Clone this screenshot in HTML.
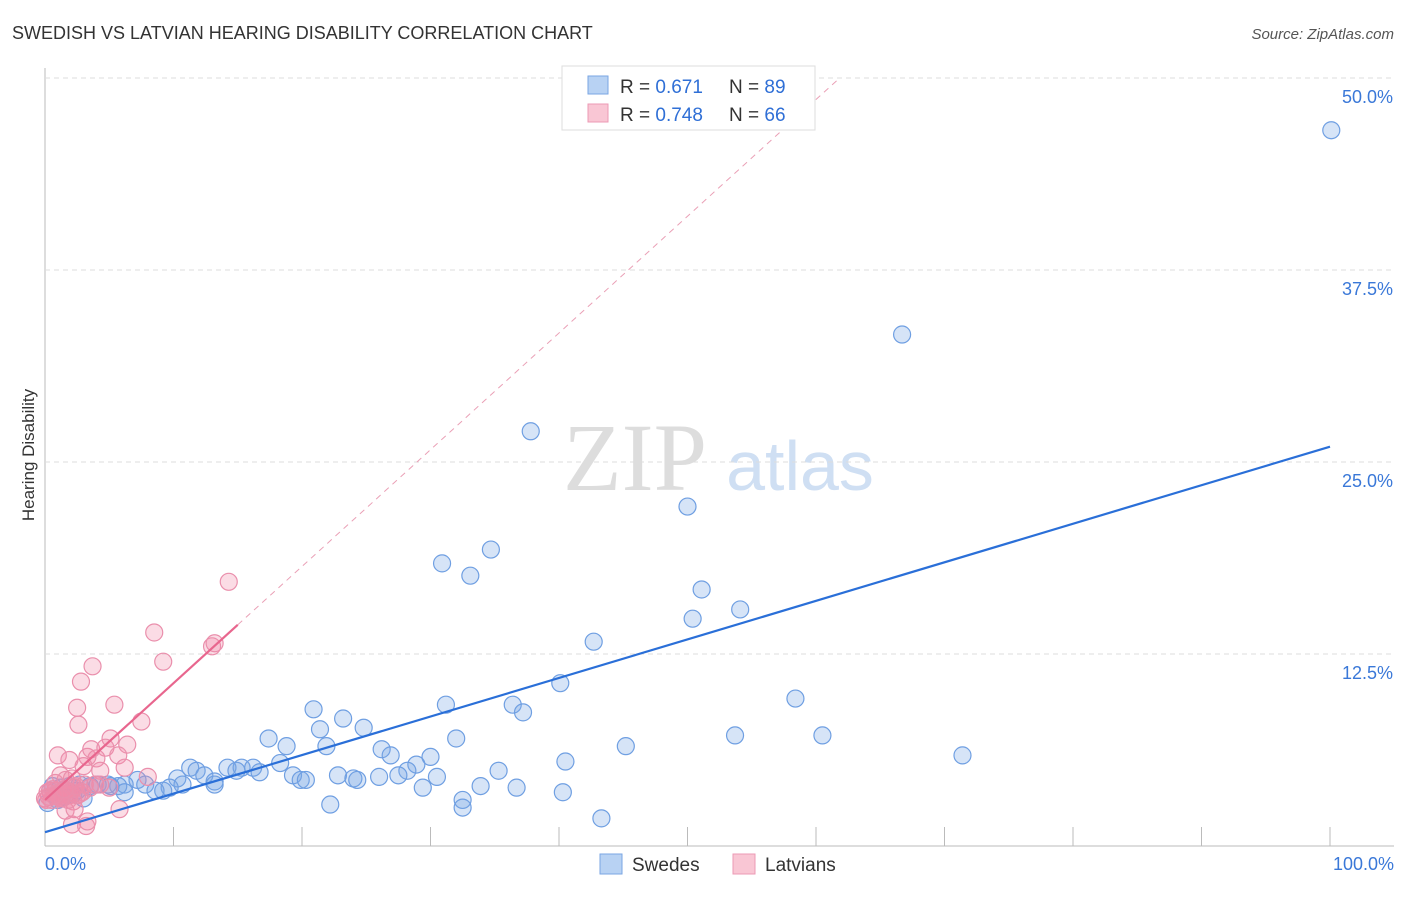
<!DOCTYPE html>
<html><head><meta charset="utf-8"><style>
body{margin:0;background:#fff;font-family:"Liberation Sans",sans-serif}
</style></head><body>
<svg id="chart" width="1406" height="892" xmlns="http://www.w3.org/2000/svg" style="font-family:'Liberation Sans',sans-serif">
<text x="12" y="39" font-size="18" fill="#333">SWEDISH VS LATVIAN HEARING DISABILITY CORRELATION CHART</text>
<text x="1394" y="39" font-size="15" fill="#555" font-style="italic" text-anchor="end">Source: ZipAtlas.com</text>
<text transform="translate(34,455) rotate(-90)" font-size="17" fill="#333" text-anchor="middle">Hearing Disability</text>
<g>
<text x="635" y="490" font-size="96" fill="#ddd" text-anchor="middle" font-family="Liberation Serif,serif">ZIP</text>
<text x="800" y="490" font-size="70" fill="#cfdff3" text-anchor="middle">atlas</text>
</g>
<g id="grid"></g><g id="marks"></g><g id="lines"></g>
<g>
<rect x="562" y="66" width="253" height="64" fill="#fff" stroke="#ddd"/>
<rect x="588" y="76" width="20" height="18" fill="#b8d2f3" stroke="#7aa6e3"/>
<rect x="588" y="104" width="20" height="18" fill="#f9c6d4" stroke="#ec9ab4"/>
<text x="620" y="93" font-size="19" fill="#333">R = <tspan fill="#2f6fd6">0.671</tspan></text>
<text x="729" y="93" font-size="19" fill="#333">N = <tspan fill="#2f6fd6">89</tspan></text>
<text x="620" y="121" font-size="19" fill="#333">R = <tspan fill="#2f6fd6">0.748</tspan></text>
<text x="729" y="121" font-size="19" fill="#333">N = <tspan fill="#2f6fd6">66</tspan></text>
</g>
<g>
<rect x="600" y="854" width="22" height="20" fill="#b8d2f3" stroke="#7aa6e3"/>
<text x="632" y="871" font-size="19" fill="#333">Swedes</text>
<rect x="733" y="854" width="22" height="20" fill="#f9c6d4" stroke="#ec9ab4"/>
<text x="765" y="871" font-size="19" fill="#333">Latvians</text>
</g>
</svg>
<script>
const yTicks=[12.5,25,37.5,50];
const yTickLabels=["12.5%","25.0%","37.5%","50.0%"];
const xTicks=[0,10,20,30,40,50,60,70,80,90,100];
const swedesX=[100.1,66.7,37.8,50.0,30.9,34.7,33.1,51.1,54.1,50.4,42.7,40.1,58.4,31.2,36.4,37.2,20.9,23.2,21.4,24.8,17.4,18.8,21.9,32.0,53.7,60.5,45.2,71.4,26.2,26.9,30.0,40.5,28.9,28.2,35.3,27.5,26.0,30.5,22.8,24.0,24.3,29.4,33.9,36.7,40.3,32.5,32.5,22.2,43.3,18.3,19.3,19.9,20.3,11.3,11.8,14.2,15.3,16.2,14.9,16.7,12.4,10.3,13.2,13.2,10.7,9.7,7.2,7.8,9.2,8.6,6.2,5.7,4.9,4.1,3.5,2.7,1.9,1.2,0.4,0.8,6.2,5.1,0.2,1.5,2.2,3.0,0.6,1.0,2.5];
const swedesY=[46.6,33.3,27.0,22.1,18.4,19.3,17.6,16.7,15.4,14.8,13.3,10.6,9.6,9.2,9.2,8.7,8.9,8.3,7.6,7.7,7.0,6.5,6.5,7.0,7.2,7.2,6.5,5.9,6.3,5.9,5.8,5.5,5.3,4.9,4.9,4.6,4.5,4.5,4.6,4.4,4.3,3.8,3.9,3.8,3.5,3.0,2.5,2.7,1.8,5.4,4.6,4.3,4.3,5.1,4.9,5.1,5.1,5.1,4.9,4.8,4.6,4.4,4.2,4.0,4.0,3.8,4.3,4.0,3.6,3.6,4.0,3.9,4.0,4.0,3.9,4.0,3.9,3.8,3.6,3.3,3.5,3.9,2.8,3.2,3.4,3.1,3.9,3.0,3.6];
const latviansX=[14.3,8.5,9.2,13.0,13.2,3.7,2.8,2.5,2.6,5.4,7.5,5.1,6.4,1.0,1.9,3.3,4.0,3.6,4.7,3.0,5.7,6.2,8.0,4.3,1.2,1.6,2.1,0.8,0.4,1.0,1.6,2.3,3.1,3.9,0,0.5,1.3,1.9,2.7,2.2,1.6,2.3,2.1,3.2,3.3,5.8,4.3,5.0,0.8,0.2,1.1,1.4,0.6,2.0,2.5,1.8,0.3,0.9,1.7,2.9,3.5,1.2,0.7,2.4,1.5,0.1];
const latviansY=[17.2,13.9,12.0,13.0,13.2,11.7,10.7,9.0,7.9,9.2,8.1,7.0,6.6,5.9,5.6,5.8,5.7,6.3,6.4,5.2,5.9,5.1,4.5,4.9,4.6,4.3,4.4,4.1,3.6,3.3,3.6,3.8,4.0,4.0,3.1,3.0,3.1,3.3,3.4,2.9,2.3,2.4,1.4,1.3,1.6,2.4,4.0,3.8,3.6,3.5,3.2,3.4,3.7,3.5,3.3,3.0,3.2,3.4,3.6,3.5,3.8,3.1,3.3,3.9,3.7,3.0];
const swedesFit=[0.9,26.0];
const latviansFit=[3.0,14.4];
const X=v=>45+v*12.85, Y=v=>846-v*15.36;
const NS="http://www.w3.org/2000/svg";
function mk(t,a,p){const e=document.createElementNS(NS,t);for(const k in a)e.setAttribute(k,a[k]);p.appendChild(e);return e;}
const grid=document.getElementById('grid'),marks=document.getElementById('marks'),lines=document.getElementById('lines');
let ax=mk('line',{x1:45,y1:68,x2:45,y2:846,stroke:'#bbb'},grid);


let bx=mk('line',{x1:45,y1:846,x2:1394,y2:846,stroke:'#bbb'},grid);


yTicks.forEach((t,i)=>{
 let g=mk('line',{x1:45,y1:Y(t),x2:1394,y2:Y(t),stroke:'#ddd','stroke-dasharray':'5,4'},grid);
 
 
 let l=mk('text',{x:1393,y:Y(t)+25,'font-size':18,fill:'#3a78d8','text-anchor':'end'},grid);l.textContent=yTickLabels[i];
 
 
});
xTicks.forEach(t=>{
 let l=mk('line',{x1:X(t),y1:846,x2:X(t),y2:827,stroke:'#bbb'},grid);
 
 
});
let x0=mk('text',{x:45,y:870,'font-size':18,fill:'#3a78d8'},grid);x0.textContent='0.0%';


let x1=mk('text',{x:1394,y:870,'font-size':18,fill:'#3a78d8','text-anchor':'end'},grid);x1.textContent='100.0%';


swedesX.forEach((x,i)=>{
 let c=mk('circle',{cx:X(x),cy:Y(swedesY[i]),r:8.5,fill:'rgba(120,165,230,0.3)',stroke:'#6f9fe2','stroke-width':1.2},marks);
 
 
});
latviansX.forEach((x,i)=>{
 let c=mk('circle',{cx:X(x),cy:Y(latviansY[i]),r:8.5,fill:'rgba(242,140,170,0.3)',stroke:'#ea8fac','stroke-width':1.2},marks);
 
 
});
let sl=mk('line',{x1:X(0),y1:Y(swedesFit[0]),x2:X(100),y2:Y(swedesFit[1]),stroke:'#2a6fd8','stroke-width':2.2},lines);


const slope=(latviansFit[1]-latviansFit[0])/15;
const xEnd=(50-latviansFit[0])/slope;
let ld=mk('line',{x1:X(15),y1:Y(latviansFit[1]),x2:X(xEnd),y2:Y(50),stroke:'#eaa0b6','stroke-width':1,'stroke-dasharray':'6,5'},lines);


let ll=mk('line',{x1:X(0),y1:Y(latviansFit[0]),x2:X(15),y2:Y(latviansFit[1]),stroke:'#e8668e','stroke-width':2.2},lines);


</script>
</body></html>
